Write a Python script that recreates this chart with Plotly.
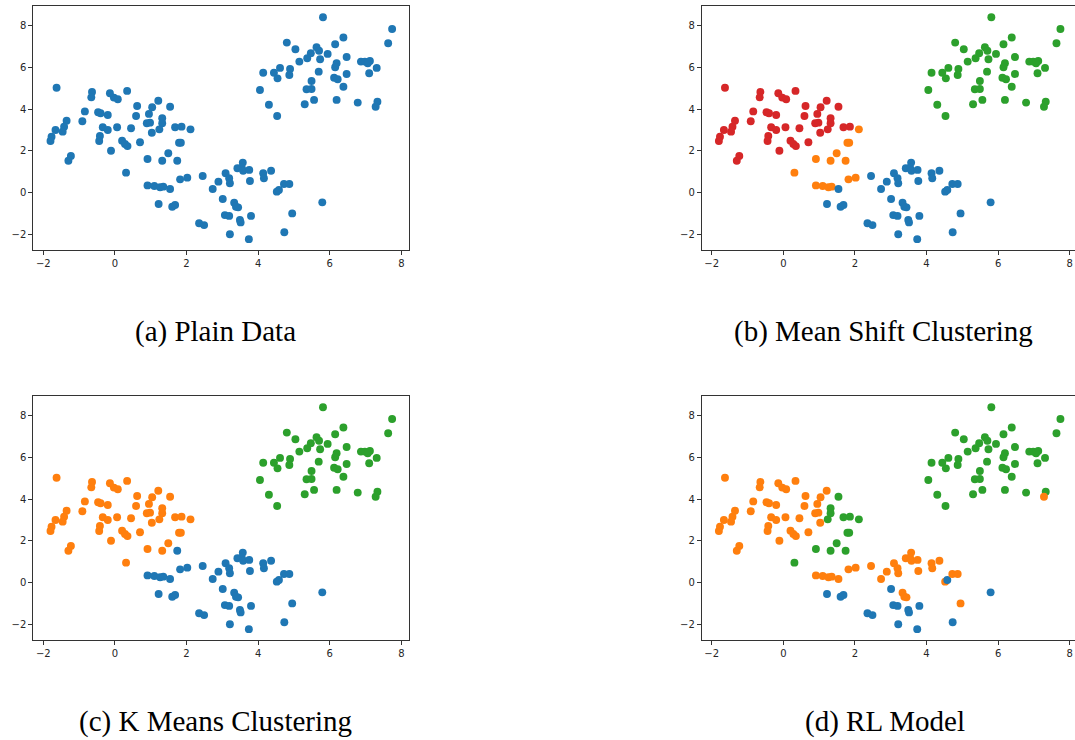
import plotly.graph_objects as go

# Point coordinates
x_vals = [-1.63, -0.64, -0.66, -0.14, -0.03, 0.08, 0.34, -0.84, -0.47, -0.40,
          -0.20, 0.62, 1.21, 1.04, 1.54, 0.95, 0.59, 1.32, 1.32, -0.91,
          -1.35, -1.42, -1.46, -1.66, -1.77, -1.80, -0.34, -0.20, -0.42, -0.44,
          0.06, 0.45, 0.89, 0.98, 1.03, 1.24, 1.68, 1.86, 2.11, -0.11,
          0.20, 0.28, 0.35, 0.70, 1.79, 1.84, -1.23, -1.30, 0.91, 1.49,
          1.32, 0.31, 1.74, 1.82, 2.02, 2.45, 0.91, 1.10, 1.26, 1.35,
          1.54, 1.22, 1.60, 1.68, 2.35, 2.49, 2.73,
          3.09, 3.19, 3.21, 2.89, 3.42, 3.57, 3.54, 3.58, 3.75, 3.77,
          4.14, 4.16, 4.36, 3.01, 3.33, 3.38, 3.44, 4.52, 4.58, 4.72,
          4.87, 5.79, 3.07, 3.19, 3.49, 3.51, 3.80, 4.95, 3.21, 3.74, 4.73,
          5.81, 7.74, 7.63, 4.80, 5.04, 6.38, 6.15, 5.63, 5.70, 5.47,
          5.37, 5.94, 5.15, 5.73, 6.47, 6.19, 6.15, 6.87, 6.98, 7.12,
          7.06, 7.31, 7.10, 4.14, 4.44, 4.54, 4.61, 4.89, 4.87, 5.69,
          6.47, 5.49, 6.12, 6.22, 5.35, 5.49, 4.05, 6.38, 4.30, 5.30,
          5.56, 6.19, 6.78, 7.33, 7.28, 4.53]
y_vals = [5.02, 4.82, 4.56, 4.76, 4.55, 4.47, 4.87, 3.89, 3.85, 3.80,
          3.72, 4.15, 4.40, 4.09, 4.11, 3.77, 3.67, 3.56, 3.32, 3.42,
          3.44, 3.16, 2.92, 3.00, 2.68, 2.47, 3.13, 3.00, 2.71, 2.47,
          3.13, 3.08, 3.32, 3.35, 2.87, 3.03, 3.13, 3.16, 3.03, 2.01,
          2.49, 2.33, 2.23, 2.41, 2.39, 2.39, 1.76, 1.53, 1.61, 1.89,
          1.53, 0.96, 1.53, 0.64, 0.72, 0.80, 0.35, 0.32, 0.26, 0.29,
          0.18, -0.54, -0.67, -0.59, -1.46, -1.55, 0.18,
          0.93, 0.69, 0.45, 0.53, 1.17, 1.44, 1.20, 1.05, 1.09, 0.56,
          0.93, 0.69, 1.05, -0.30, -0.48, -0.67, -0.70, 0.05, 0.13, 0.42,
          0.42, -0.46, -1.07, -1.11, -1.30, -1.42, -1.11, -0.99, -1.99, -2.22, -1.89,
          8.39, 7.83, 7.15, 7.18, 6.86, 7.42, 7.10, 6.96, 6.79, 6.67,
          6.43, 6.64, 6.27, 6.38, 6.49, 6.19, 6.00, 6.27, 6.27, 6.30,
          6.19, 5.97, 5.71, 5.74, 5.74, 5.47, 5.97, 5.92, 5.63, 5.79,
          5.68, 5.34, 5.50, 5.43, 4.95, 4.96, 4.91, 5.07, 4.21, 4.23,
          4.44, 4.44, 4.31, 4.35, 4.11, 3.67]

# Cluster labels per panel (same order as the points): 0 blue, 1 orange, 2 green, 3 red
labels_a = [0] * 144
labels_b = [3, 3, 3, 3, 3, 3, 3, 3, 3, 3,
            3, 3, 3, 3, 3, 3, 3, 3, 3, 3,
            3, 3, 3, 3, 3, 3, 3, 3, 3, 3,
            3, 3, 3, 3, 3, 3, 3, 3, 1, 3,
            3, 3, 3, 3, 1, 1, 3, 3, 1, 1,
            1, 1, 1, 1, 1, 0, 1, 1, 1, 1,
            0, 0, 0, 0, 0, 0, 0,
            0, 0, 0, 0, 0, 0, 0, 0, 0, 0,
            0, 0, 0, 0, 0, 0, 0, 0, 0, 0,
            0, 0, 0, 0, 0, 0, 0, 0, 0, 0, 0,
            2, 2, 2, 2, 2, 2, 2, 2, 2, 2,
            2, 2, 2, 2, 2, 2, 2, 2, 2, 2,
            2, 2, 2, 2, 2, 2, 2, 2, 2, 2,
            2, 2, 2, 2, 2, 2, 2, 2, 2, 2,
            2, 2, 2, 2, 2, 2]
labels_c = [1, 1, 1, 1, 1, 1, 1, 1, 1, 1,
            1, 1, 1, 1, 1, 1, 1, 1, 1, 1,
            1, 1, 1, 1, 1, 1, 1, 1, 1, 1,
            1, 1, 1, 1, 1, 1, 1, 1, 1, 1,
            1, 1, 1, 1, 1, 1, 1, 1, 1, 1,
            1, 1, 0, 0, 0, 0, 0, 0, 0, 0,
            0, 0, 0, 0, 0, 0, 0,
            0, 0, 0, 0, 0, 0, 0, 0, 0, 0,
            0, 0, 0, 0, 0, 0, 0, 0, 0, 0,
            0, 0, 0, 0, 0, 0, 0, 0, 0, 0, 0,
            2, 2, 2, 2, 2, 2, 2, 2, 2, 2,
            2, 2, 2, 2, 2, 2, 2, 2, 2, 2,
            2, 2, 2, 2, 2, 2, 2, 2, 2, 2,
            2, 2, 2, 2, 2, 2, 2, 2, 2, 2,
            2, 2, 2, 2, 2, 2]
labels_d = [1, 1, 1, 1, 1, 1, 1, 1, 1, 1,
            1, 1, 1, 1, 2, 1, 1, 2, 2, 1,
            1, 1, 1, 1, 1, 1, 1, 1, 1, 1,
            1, 1, 1, 1, 1, 2, 2, 2, 2, 1,
            1, 1, 1, 1, 2, 2, 1, 1, 2, 2,
            2, 2, 2, 1, 1, 1, 1, 1, 1, 1,
            1, 0, 0, 0, 0, 0, 1,
            1, 1, 1, 1, 1, 1, 1, 1, 1, 1,
            1, 1, 1, 0, 1, 1, 1, 1, 0, 1,
            1, 0, 0, 0, 0, 0, 0, 1, 0, 0, 0,
            2, 2, 2, 2, 2, 2, 2, 2, 2, 2,
            2, 2, 2, 2, 2, 2, 2, 2, 2, 2,
            2, 2, 2, 2, 2, 2, 2, 2, 2, 2,
            2, 2, 2, 2, 2, 2, 2, 2, 2, 2,
            2, 2, 2, 2, 1, 2]

panel_titles = ["(a) Plain Data", "(b) Mean Shift Clustering",
                "(c) K Means Clustering", "(d) RL Model"]
x_ticks = [-2, 0, 2, 4, 6, 8]
y_ticks = [-2, 0, 2, 4, 6, 8]

palette = ["#1f77b4", "#ff7f0e", "#2ca02c", "#d62728"]

W, H = 1075, 740
panels = [
    dict(labels=labels_a, x0=33.3, x1=409.3, top=6, bottom=250, xr=[-2.28, 8.22], mirror_y=True),
    dict(labels=labels_b, x0=701.7, x1=1075, top=6, bottom=250, xr=[-2.28, 8.147], mirror_y=False),
    dict(labels=labels_c, x0=33.3, x1=409.3, top=396, bottom=640, xr=[-2.28, 8.22], mirror_y=True),
    dict(labels=labels_d, x0=701.7, x1=1075, top=396, bottom=640, xr=[-2.28, 8.147], mirror_y=False),
]
title_pos = [(215, 331), (883, 331), (215, 721), (885, 721)]

fig = go.Figure()
layout = dict(width=W, height=H, margin=dict(l=0, r=0, t=0, b=0),
              paper_bgcolor="white", plot_bgcolor="white", showlegend=False,
              font=dict(family="DejaVu Sans", size=10, color="#262626"))
annotations = []
for i, p in enumerate(panels):
    n = "" if i == 0 else str(i + 1)
    labs = p["labels"]
    fig.add_trace(go.Scatter(
        x=x_vals, y=y_vals, mode="markers",
        marker=dict(size=7.9, color=[palette[k] for k in labs], line=dict(width=0)),
        xaxis="x" + n, yaxis="y" + n, hoverinfo="x+y"))
    layout["xaxis" + n] = dict(
        domain=[p["x0"] / W, p["x1"] / W], range=p["xr"], anchor="y" + n,
        tickvals=x_ticks, ticks="outside", ticklen=4, tickwidth=0.8, tickcolor="#333",
        showline=True, linecolor="#333", linewidth=0.9, mirror=True,
        showgrid=False, zeroline=False, ticklabeloverflow="allow",
        tickfont=dict(size=10, color="#262626"))
    layout["yaxis" + n] = dict(
        domain=[1 - p["bottom"] / H, 1 - p["top"] / H], range=[-2.74, 8.93], anchor="x" + n,
        tickvals=y_ticks, ticks="outside", ticklen=4, tickwidth=0.8, tickcolor="#333",
        showline=True, linecolor="#333", linewidth=0.9, mirror=p["mirror_y"],
        showgrid=False, zeroline=False, tickfont=dict(size=10, color="#262626"))
    tx, ty = title_pos[i]
    annotations.append(dict(text=panel_titles[i], x=tx / W, y=1 - ty / H,
                            xref="paper", yref="paper", showarrow=False,
                            xanchor="center", yanchor="middle",
                            font=dict(family="Liberation Serif", size=29, color="black")))
layout["annotations"] = annotations
fig.update_layout(**layout)
fig.write_html("out.html", config={"displayModeBar": False},
               post_script="document.body.style.margin='0';document.body.style.overflow='hidden';")
